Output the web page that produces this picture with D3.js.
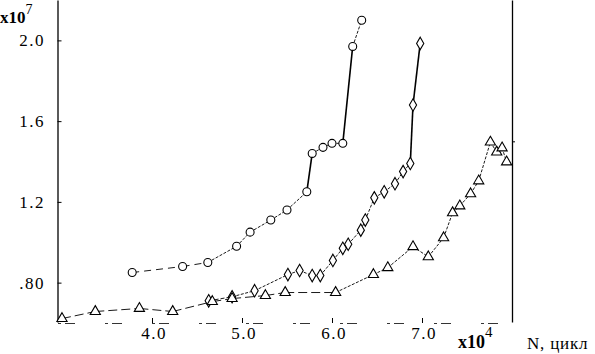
<!DOCTYPE html>
<html>
<head>
<meta charset="utf-8">
<script src="https://cdn.jsdelivr.net/npm/d3@7"></script>
<style>
  body { margin: 0; background: #fff; }
  svg { display: block; }
  text { font-family: "Liberation Serif", "DejaVu Serif", serif; fill: #000; }
</style>
</head>
<body>
<script>
const width = 595;
const height = 354;

// cycles N (x10^4) and values (x10^7)
const circleN = [3.78, 4.34, 4.62, 4.94, 5.09, 5.32, 5.50, 5.72, 5.78, 5.90, 6.00, 6.12, 6.23, 6.33];
const circleV = [0.85, 0.88, 0.90, 0.98, 1.05, 1.11, 1.16, 1.25, 1.44, 1.47, 1.49, 1.49, 1.97, 2.10];

const diamondN = [4.63, 4.89, 5.14, 5.51, 5.64, 5.78, 5.87, 6.01, 6.12, 6.18, 6.32, 6.37, 6.47, 6.58, 6.70, 6.79, 6.87, 6.90, 6.98];
const diamondV = [0.71, 0.73, 0.76, 0.84, 0.86, 0.835, 0.835, 0.91, 0.97, 0.99, 1.06, 1.11, 1.22, 1.25, 1.29, 1.35, 1.39, 1.68, 1.985];

const triangleN = [3.00, 3.37, 3.86, 4.23, 4.67, 4.89, 5.26, 5.48, 6.04, 6.46, 6.62, 6.90, 7.07, 7.24, 7.34, 7.42, 7.54, 7.63, 7.76, 7.83, 7.89, 7.94];
const triangleV = [0.622, 0.657, 0.672, 0.657, 0.706, 0.721, 0.736, 0.751, 0.751, 0.84, 0.874, 0.978, 0.928, 1.022, 1.146, 1.18, 1.24, 1.304, 1.496, 1.447, 1.467, 1.398];

const yTicks = [0.8, 1.2, 1.6, 2.0];
const yTickLabels = [".80", "1.2", "1.6", "2.0"];
const xTicks = [4, 5, 6, 7];
const xTickLabels = ["4.0", "5.0", "6.0", "7.0"];

const svg = d3.select('body')
              .append('svg')
              .attr('width', width)
              .attr('height', height);

const x = d3.scaleLinear().domain([2.95, 8.0]).range([57.5, 512]);
const y = d3.scaleLinear().domain([0.605, 2.2]).range([322, 0]);

// left axis
svg.append('g')
   .attr('transform', 'translate(' + x(2.95) + ',0)')
   .call(d3.axisLeft(y).tickValues(yTicks).tickSizeInner(-4).tickSizeOuter(0).tickFormat(''))
   .call(g => g.select('.domain').attr('stroke-width', 1.3));

yTicks.forEach((v, i) => {
    svg.append('text')
       .attr('x', 45)
       .attr('y', y(v) + 6)
       .attr('text-anchor', 'end')
       .attr('font-size', 17)
       .attr('letter-spacing', 1.5)
       .text(yTickLabels[i]);
});

// right axis
svg.append('g')
   .attr('transform', 'translate(' + x(8.0) + ',0)')
   .call(d3.axisRight(y).tickValues([1.5]).tickSizeInner(3).tickSizeOuter(0).tickFormat(''))
   .call(g => g.select('.domain').attr('stroke-width', 1.3));

// bottom axis, faint and broken as in the scan
svg.append('g')
   .attr('transform', 'translate(0,' + (y(0.605) + 1) + ')')
   .call(d3.axisBottom(x).tickValues(xTicks).tickSizeInner(-5).tickSizeOuter(0).tickFormat(''))
   .call(g => g.select('.domain').attr('stroke-dasharray', '3,4,10,30').attr('stroke-width', 0.8));

xTicks.forEach((v, i) => {
    svg.append('text')
       .attr('x', x(v) + 2)
       .attr('y', 339)
       .attr('text-anchor', 'middle')
       .attr('font-size', 17)
       .attr('letter-spacing', 1.5)
       .text(xTickLabels[i]);
});

// multipliers and axis name
const m7 = svg.append('text').attr('x', 0).attr('y', 23).attr('font-size', 17).attr('font-weight', 'bold');
m7.append('tspan').text('x10');
m7.append('tspan').attr('dy', -9).attr('font-size', 14).attr('font-weight', 'normal').text('7');

const m4 = svg.append('text').attr('x', 458).attr('y', 348).attr('font-size', 18).attr('font-weight', 'bold');
m4.append('tspan').text('x10');
m4.append('tspan').attr('dy', -11).attr('font-size', 15).attr('font-weight', 'normal').text('4');

svg.append('text')
   .attr('x', 527)
   .attr('y', 349)
   .attr('font-size', 17)
   .attr('letter-spacing', 0.8)
   .text('N, цикл');

// series: segment by segment, dashed at the low start, heavier on the steep jumps
const drawSeries = (ns, vs, symbol, size, dashUntil, dash) => {
    const pts = ns.map((n, i) => [n, vs[i]]);
    svg.append('g')
       .selectAll('line')
       .data(d3.pairs(pts))
       .enter()
       .append('line')
       .attr('x1', d => x(d[0][0]))
       .attr('y1', d => y(d[0][1]))
       .attr('x2', d => x(d[1][0]))
       .attr('y2', d => y(d[1][1]))
       .attr('stroke', '#000')
       .attr('stroke-width', d => (d[1][1] - d[0][1]) / (d[1][0] - d[0][0]) > 2 ? 1.6 : 0.9)
       .attr('stroke-dasharray', d => d[1][0] <= dashUntil ? dash : ((d[1][1] - d[0][1]) / (d[1][0] - d[0][0]) > 2 ? null : '3,1.5'));

    svg.append('g')
       .selectAll('path')
       .data(pts)
       .enter()
       .append('path')
       .attr('transform', d => 'translate(' + x(d[0]) + ',' + y(d[1]) + ')')
       .attr('d', d3.symbol().type(symbol).size(size))
       .attr('fill', '#fff')
       .attr('stroke', '#000')
       .attr('stroke-width', 1.1);
};

drawSeries(circleN, circleV, d3.symbolCircle, 50, 4.62, '7,5');
drawSeries(diamondN, diamondV, d3.symbolDiamond, 45, 4.89, '4,2');
drawSeries(triangleN, triangleV, d3.symbolTriangle, 45, 6.04, '9,4');
</script>
</body>
</html>
